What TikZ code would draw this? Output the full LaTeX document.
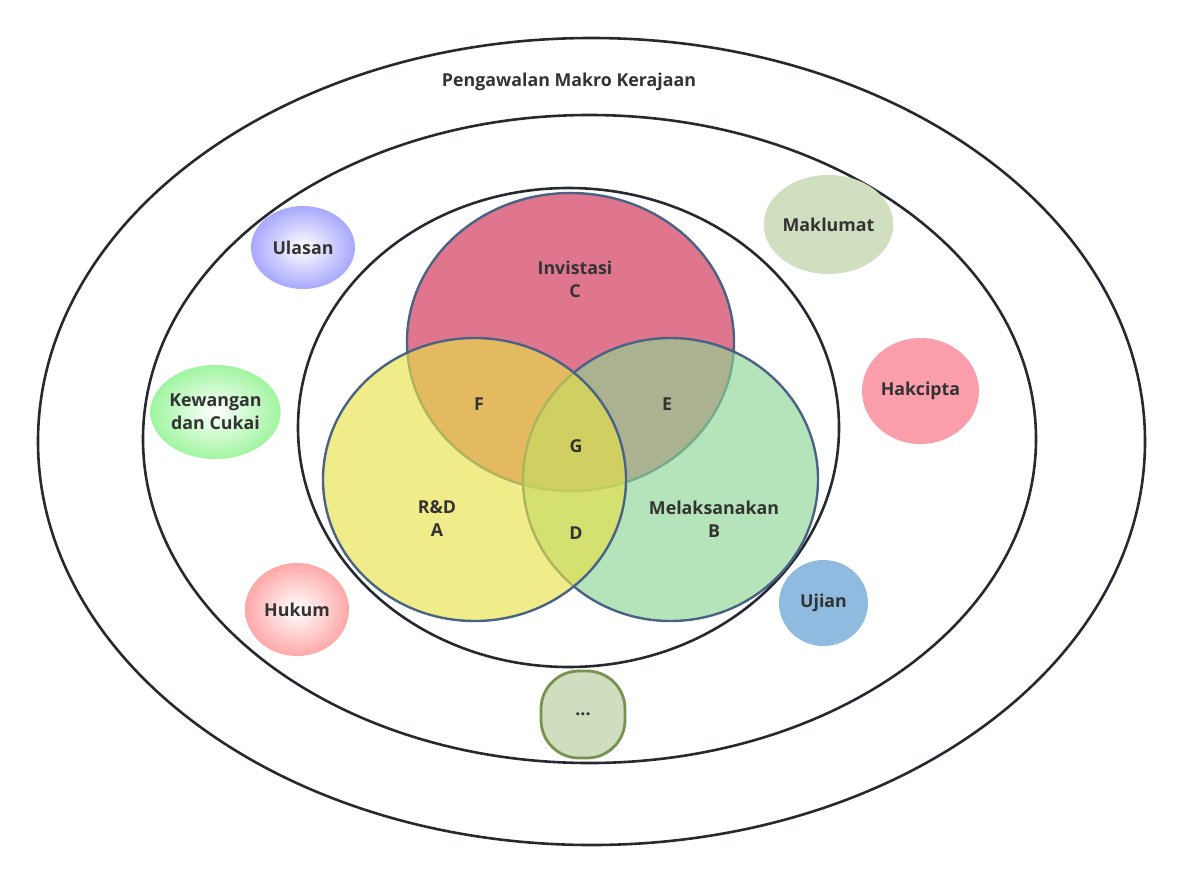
\documentclass[tikz,border=0pt]{standalone}
\usepackage{fontspec}
\setmainfont{Open Sans}
\usetikzlibrary{shapes.geometric}
\definecolor{ringc}{HTML}{262A30}
\definecolor{txt}{HTML}{333333}
\definecolor{vennline}{HTML}{4A6384}
\definecolor{cred}{RGB}{206,41,78}
\definecolor{cyel}{RGB}{231,225,72}
\definecolor{cgrn}{RGB}{140,213,147}
\definecolor{makl}{RGB}{208,223,192}
\definecolor{hakc}{RGB}{250,158,172}
\definecolor{ujia}{RGB}{144,187,224}
\definecolor{dotf}{RGB}{208,222,192}
\definecolor{dotd}{RGB}{118,147,79}
\begin{document}
\begin{tikzpicture}[x=1pt,y=-1pt,
  ring/.style={draw=ringc,line width=2.6pt},
  venn/.style={draw=vennline,line width=2.4pt,fill opacity=0.64},
  lbl/.style={text=txt,font=\bfseries\fontsize{17.8}{23}\selectfont,align=center,inner sep=0pt},
  blob/.style={ellipse,inner sep=0pt,text=txt,font=\bfseries\fontsize{17.8}{23}\selectfont,align=center},
  ]
\useasboundingbox (0,0) rectangle (1182,883);
% rings
\draw[ring] (591.5,441.5) ellipse [x radius=553.5, y radius=403.5];
\draw[ring] (589.5,439) ellipse [x radius=446.5, y radius=324];
\draw[ring] (568.5,427.5) ellipse [x radius=270.5, y radius=239.5];
\node[lbl] (title) at (569,82) {Pengawalan Makro Kerajaan};
% venn
\draw[venn,fill=cred] (570.5,342) ellipse [x radius=163.5, y radius=149];
\draw[venn,fill=cgrn] (670.5,479.5) ellipse [x radius=147.5, y radius=141.5];
\draw[venn,fill=cyel] (474.5,479.5) ellipse [x radius=151.5, y radius=141.5];
\node[lbl] (C) at (575,279) {Invistasi\\C};
\node[lbl] (A) at (437,519) {R\&D\\A};
\node[lbl] (B) at (714,519) {Melaksanakan\\B};
\node[lbl] (F) at (479,404) {F};
\node[lbl] (E) at (667,404) {E};
\node[lbl] (G) at (576,446) {G};
\node[lbl] (D) at (576,533) {D};
% satellites
\node[blob,minimum width=104pt,minimum height=83pt,inner color=white,outer color={rgb,255:red,168;green,168;blue,255}] (ulasan) at (303,247.5) {Ulasan};
\node[blob,minimum width=127pt,minimum height=94pt,inner color=white,outer color={rgb,255:red,160;green,245;blue,160}] (kew) at (215.5,412) {Kewangan\\dan Cukai};
\node[blob,minimum width=104pt,minimum height=93pt,inner color=white,outer color={rgb,255:red,255;green,168;blue,168}] (hukum) at (297,609.5) {Hukum};
\node[blob,minimum width=125pt,minimum height=99pt,fill=makl] (makl) at (828.5,224.5) {Maklumat};
\node[blob,minimum width=117pt,minimum height=106pt,fill=hakc] (hakc) at (920.5,391) {Hakcipta};
\node[blob,minimum width=89pt,minimum height=86pt,fill=ujia] (ujian) at (823.5,603) {Ujian};
\node[draw=dotd,line width=2.8pt,fill=dotf,rounded corners=38pt,minimum width=84pt,minimum height=87pt,inner sep=0pt,text=txt,font=\bfseries\fontsize{17.8}{23}\selectfont] (more) at (583,714.5) {...};
\end{tikzpicture}
\end{document}
